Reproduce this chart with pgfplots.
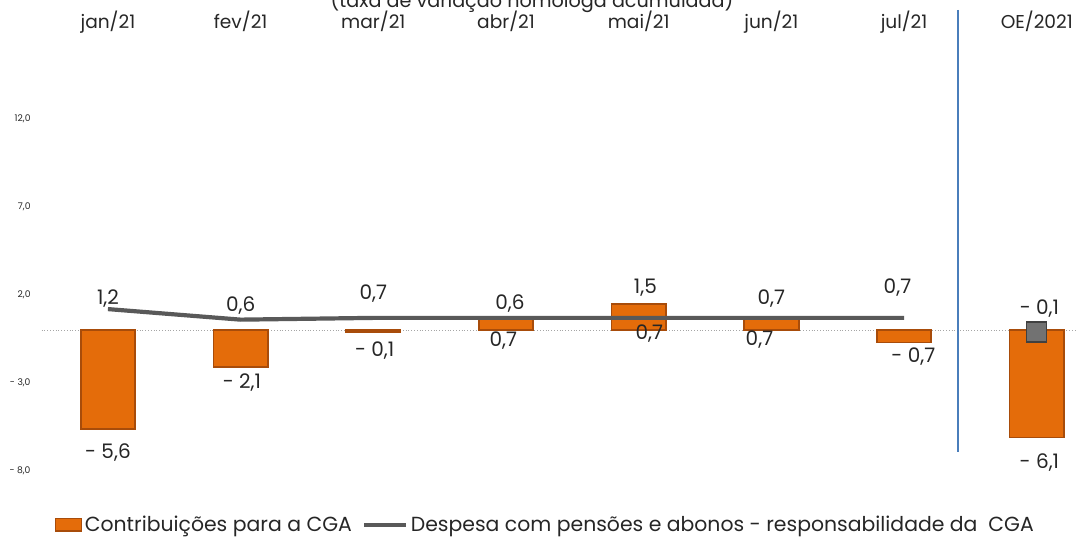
\documentclass[border=0pt]{standalone}
\usepackage{fontspec}
\setmainfont{Poppins}
\usepackage{pgfplots}
\pgfplotsset{compat=1.18}
\definecolor{barorange}{HTML}{E46C0A}
\definecolor{bardark}{HTML}{A84C0A}
\definecolor{linegray}{HTML}{595959}
\definecolor{sepblue}{HTML}{4A7EBB}
\definecolor{txt}{HTML}{262626}

\pgfplotsset{
  cga bar legend/.style={legend image code/.code={\draw[##1, line width=0.7pt] (0pt,-3pt) rectangle (13pt,3.2pt);}},
  cga line legend/.style={legend image code/.code={\draw[##1] (0pt,0pt) -- (21pt,0pt);}},
}

\begin{document}
\begin{tikzpicture}
\begin{axis}[
    at={(20.8pt,33.5pt)}, anchor=south west,
    scale only axis, width=517.5pt, height=220pt,
    xmin=-0.5, xmax=7.3, ymin=-8, ymax=17,
    clip=false,
    axis line style={draw=none},
    major tick length=0pt,
    xtick={0,1,2,3,4,5,6,7},
    xticklabels={jan/21,fev/21,mar/21,abr/21,mai/21,jun/21,jul/21,OE/2021},
    xticklabel pos=upper,
    xticklabel style={anchor=base, yshift=1.5pt, font=\fontsize{9.3}{11}\selectfont, text=txt},
    ytick={-8,-3,2,7,12},
    yticklabels={{- 8,0},{- 3,0},{2,0},{7,0},{12,0}},
    yticklabel style={font=\fontsize{4.6}{5}\selectfont, text=txt, xshift=-2pt},
    legend style={at={(0.487,-0.123)}, anchor=center, draw=none, fill=none,
        font=\fontsize{10.2}{12}\selectfont, text=txt,
        nodes={inner xsep=1.2pt},
        /tikz/every even column/.append style={column sep=4pt}},
    legend columns=2,
    legend cell align=left,
]
% zero line
\draw[black!35, densely dotted, line width=0.4pt] (axis cs:-0.5,0) -- (axis cs:7.3,0);

\addplot[ybar, bar width=0.41, fill=barorange, draw=bardark, line width=0.9pt, cga bar legend]
  coordinates {(0,-5.6) (1,-2.1) (2,-0.1) (3,0.7) (4,1.5) (5,0.7) (6,-0.7) (7,-6.1)};
\addplot[linegray, line width=2.1pt, cga line legend]
  coordinates {(0,1.2) (1,0.6) (2,0.7) (3,0.7) (4,0.7) (5,0.7) (6,0.7)};
\addplot[forget plot, only marks, mark=square*, mark size=5pt,
    mark options={fill=linegray!85, draw=black!75, line width=0.6pt}]
  coordinates {(7,-0.1)};

\legend{Contribuições para a CGA, Despesa com pensões e abonos - responsabilidade da\ \ CGA}

% separator between months and OE
\draw[sepblue, line width=0.8pt] (axis cs:6.405,18.2) -- (axis cs:6.405,-6.93);

% data labels
\begin{scope}[every node/.style={font=\fontsize{10}{12}\selectfont, text=txt, inner sep=0pt}]
\node at (axis cs:0,1.82) {1,2};
\node at (axis cs:1,1.42) {0,6};
\node at (axis cs:2,2.1) {0,7};
\node at (axis cs:3.03,1.53) {0,6};
\node at (axis cs:4.05,2.39) {1,5};
\node at (axis cs:4.08,-0.17) {0,7};
\node at (axis cs:5,1.82) {0,7};
\node at (axis cs:4.91,-0.51) {0,7};
\node at (axis cs:2.98,-0.57) {0,7};
\node at (axis cs:2.01,-1.14) {- 0,1};
\node at (axis cs:1.01,-2.95) {- 2,1};
\node at (axis cs:0,-6.93) {- 5,6};
\node at (axis cs:5.95,2.44) {0,7};
\node at (axis cs:6.07,-1.48) {- 0,7};
\node at (axis cs:7.02,1.25) {- 0,1};
\node at (axis cs:7.02,-7.5) {- 6,1};
\end{scope}
\end{axis}
% title, cut by the top edge
\node[anchor=base, font=\fontsize{9.6}{11}\selectfont, text=txt, inner sep=0pt] at (266pt,265.5pt) {(taxa de variação homóloga acumulada)};
\pgfresetboundingbox
\useasboundingbox (0,0) rectangle (538pt,269pt);
\end{tikzpicture}
\end{document}
